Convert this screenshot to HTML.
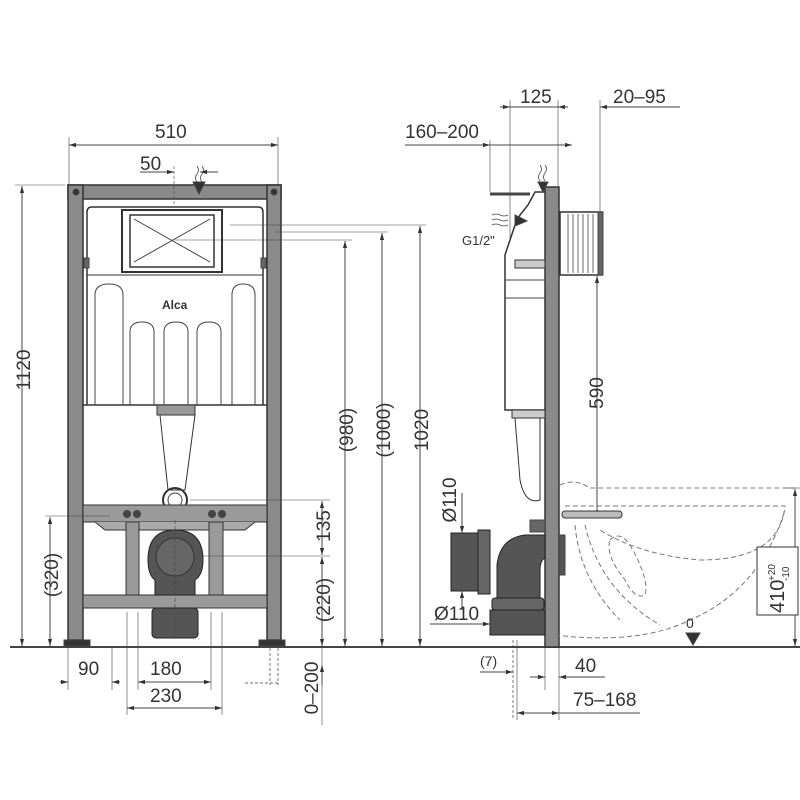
<!DOCTYPE html>
<html><head><meta charset="utf-8"><style>
html,body{margin:0;padding:0;background:#fff;}
svg{display:block;}
text{font-family:"Liberation Sans",sans-serif;fill:#333;}
</style></head><body>
<svg width="800" height="800" viewBox="0 0 800 800" xmlns="http://www.w3.org/2000/svg">
<defs>
<marker id="a" viewBox="0 0 10 10" refX="10" refY="5" markerWidth="7" markerHeight="7" orient="auto-start-reverse"><path d="M0,2 L10,5 L0,8 z" fill="#333"/></marker>
</defs>
<g stroke="#444" stroke-width="1" fill="none">
<line x1="10" y1="647" x2="800" y2="647" stroke-width="2"/>

<rect x="68" y="185" width="213" height="14" fill="#8a8a8a" stroke="#333" stroke-width="1.5"/>
<rect x="68" y="185" width="15" height="455" fill="#8a8a8a" stroke="#333" stroke-width="1.5"/>
<rect x="267" y="185" width="14" height="455" fill="#8a8a8a" stroke="#333" stroke-width="1.5"/>
<circle cx="76" cy="192" r="3" fill="#333"/><circle cx="274" cy="192" r="3" fill="#333"/>
<rect x="64" y="640" width="26" height="6" fill="#333"/><rect x="259" y="640" width="26" height="6" fill="#333"/>
<path d="M87,405 L87,212 Q87,207 92,207 L258,207 Q263,207 263,212 L263,405" stroke="#333" stroke-width="1.5"/>
<line x1="83" y1="405" x2="267" y2="405" stroke="#333" stroke-width="1.5"/>
<rect x="122" y="210" width="100" height="62" stroke="#333" stroke-width="2"/>
<rect x="130" y="215" width="84" height="52" stroke="#333" stroke-width="1.5"/>
<line x1="134" y1="262" x2="210" y2="219"/><line x1="134" y1="219" x2="210" y2="262"/>
<line x1="87" y1="275" x2="263" y2="275" stroke="#333"/>
<path d="M95,405 V295 Q95,284 109,284 Q123,284 123,295 V405"/>
<path d="M130,405 V332 Q130,322 142,322 Q154,322 154,332 V405"/>
<path d="M164,405 V332 Q164,322 176,322 Q188,322 188,332 V405"/>
<path d="M197,405 V332 Q197,322 209,322 Q221,322 221,332 V405"/>
<path d="M232,405 V295 Q232,284 243,284 Q255,284 255,295 V405"/>
<rect x="84" y="258" width="5" height="10" fill="#666"/><rect x="261" y="258" width="5" height="10" fill="#666"/>
<rect x="157" y="405" width="38" height="10" fill="#999" stroke="#333"/>
<path d="M160,415 L195,415 L185,490 L168,490 Z" stroke="#333"/>
<circle cx="175" cy="500" r="12" stroke="#333" stroke-width="2"/><circle cx="175" cy="500" r="7"/>
<rect x="83" y="505" width="184" height="17" fill="#9a9a9a" stroke="#333"/>
<path d="M95,522 L105,530 L245,530 L255,522" fill="#aaa" stroke="#333"/>
<rect x="126" y="522" width="13" height="73" fill="#9a9a9a" stroke="#333"/>
<rect x="209" y="522" width="14" height="73" fill="#9a9a9a" stroke="#333"/>
<rect x="83" y="595" width="184" height="13" fill="#9a9a9a" stroke="#333"/>
<circle cx="127" cy="514" r="3.5" fill="#444"/><circle cx="137" cy="514" r="3.5" fill="#444"/>
<circle cx="212" cy="514" r="3.5" fill="#444"/><circle cx="222" cy="514" r="3.5" fill="#444"/>
<path d="M148,560 Q148,530 175,530 Q203,530 203,560 Q203,575 195,580 L195,595 L155,595 L155,580 Q148,575 148,560 Z" fill="#555" stroke="#222"/>
<circle cx="175" cy="557" r="19" fill="#666" stroke="#333"/>
<rect x="152" y="608" width="46" height="30" rx="4" fill="#555" stroke="#222"/>
<line x1="175" y1="520" x2="175" y2="640" stroke-dasharray="4,2" stroke-width="0.6"/>

<line x1="69" y1="145" x2="278" y2="145" marker-start="url(#a)" marker-end="url(#a)"/>
<line x1="69" y1="137" x2="69" y2="185" stroke-width="0.6"/><line x1="278" y1="137" x2="278" y2="185" stroke-width="0.6"/>
<line x1="140" y1="172" x2="170" y2="172" /><line x1="170" y1="172" x2="174" y2="172" marker-end="url(#a)"/>
<line x1="218" y1="172" x2="200" y2="172" marker-end="url(#a)"/>
<line x1="174" y1="166" x2="174" y2="205" stroke-width="0.6" stroke-dasharray="3,2"/>
<path d="M193,182 L205,182 L199,194 Z" fill="#333"/>
<path d="M197,166 q3,4 0,8 q-3,4 0,8 M202,166 q3,4 0,8 q-3,4 0,8" stroke-width="0.8"/>

<line x1="22" y1="186" x2="22" y2="646" marker-start="url(#a)" marker-end="url(#a)"/>
<line x1="15" y1="185" x2="65" y2="185" stroke-width="0.6"/>
<line x1="50" y1="517" x2="50" y2="646" marker-start="url(#a)" marker-end="url(#a)"/>
<line x1="45" y1="516" x2="110" y2="516" stroke-width="0.6"/>
<line x1="345" y1="241" x2="345" y2="646" marker-start="url(#a)" marker-end="url(#a)"/>
<line x1="382" y1="233" x2="382" y2="646" marker-start="url(#a)" marker-end="url(#a)"/>
<line x1="420" y1="226" x2="420" y2="646" marker-start="url(#a)" marker-end="url(#a)"/>
<line x1="175" y1="240" x2="352" y2="240" stroke-width="0.6"/>
<line x1="275" y1="232" x2="388" y2="232" stroke-width="0.6"/>
<line x1="230" y1="225" x2="426" y2="225" stroke-width="0.6"/>
<line x1="190" y1="500" x2="330" y2="500" stroke-width="0.6"/>
<line x1="200" y1="556" x2="330" y2="556" stroke-width="0.6"/>
<line x1="322" y1="501" x2="322" y2="555" marker-start="url(#a)" marker-end="url(#a)"/>
<line x1="322" y1="557" x2="322" y2="646" marker-start="url(#a)" marker-end="url(#a)"/>
<line x1="322" y1="646" x2="322" y2="725" stroke-width="0.6"/>
<line x1="322" y1="665" x2="322" y2="685" marker-start="url(#a)"/>
<line x1="270" y1="648" x2="270" y2="685" stroke-dasharray="3,2" stroke-width="0.7"/>
<line x1="278" y1="648" x2="278" y2="685" stroke-dasharray="3,2" stroke-width="0.7"/>
<line x1="245" y1="683" x2="278" y2="683" stroke-dasharray="3,2" stroke-width="0.7"/>

<line x1="68" y1="648" x2="68" y2="690" stroke-width="0.6"/><line x1="112" y1="648" x2="112" y2="690" stroke-width="0.6"/>
<line x1="60" y1="682" x2="68" y2="682" marker-end="url(#a)"/><line x1="120" y1="682" x2="112" y2="682" marker-end="url(#a)"/>
<line x1="138" y1="612" x2="138" y2="690" stroke-width="0.6"/><line x1="211" y1="612" x2="211" y2="690" stroke-width="0.6"/>
<line x1="138" y1="682" x2="211" y2="682" marker-start="url(#a)" marker-end="url(#a)"/>
<line x1="127" y1="612" x2="127" y2="715" stroke-width="0.6"/><line x1="222" y1="612" x2="222" y2="715" stroke-width="0.6"/>
<line x1="127" y1="708" x2="222" y2="708" marker-start="url(#a)" marker-end="url(#a)"/>

<rect x="545" y="187" width="14" height="460" fill="#8a8a8a" stroke="#333" stroke-width="1.5"/>
<rect x="560" y="212" width="42" height="63" stroke="#333" stroke-width="1.5"/>
<path d="M568,214 V273 M573,214 V273 M578,214 V273 M583,214 V273 M588,214 V273 M593,214 V273" stroke-width="0.8"/>
<rect x="598" y="212" width="5" height="63" fill="#666"/>
<path d="M545,192 L535,192 L528,205 L520,215 L515,225 L510,240 L505,255 L505,410 L545,410" stroke="#333" stroke-width="1.5"/>
<line x1="490" y1="194" x2="530" y2="194" stroke-width="3" stroke="#444"/>
<line x1="505" y1="280" x2="545" y2="280"/><line x1="505" y1="298" x2="545" y2="298"/>
<rect x="515" y="260" width="30" height="8" fill="#ccc" stroke="#333"/>
<path d="M538,182 L548,182 L543,192 Z" fill="#333"/>
<path d="M540,165 q3,4 0,8 q-3,4 0,8 M545,165 q3,4 0,8 q-3,4 0,8" stroke-width="0.8"/>
<path d="M515,215 L527,221 L515,226 Z" fill="#333"/>
<path d="M492,215 q4,-2 8,0 q4,2 8,0 M492,220 q4,-2 8,0 q4,2 8,0 M492,225 q4,-2 8,0 q4,2 8,0" stroke-width="0.8"/>
<rect x="512" y="410" width="33" height="8" fill="#ccc" stroke="#333"/>
<path d="M515,418 L540,418 L540,500 Q525,505 520,480 Z" stroke="#333"/>
<rect x="530" y="520" width="15" height="12" fill="#666"/>
<path d="M545,535 L525,535 Q500,538 497,565 L497,600 L540,600 L540,570 Q540,560 545,558 Z" fill="#555" stroke="#222"/>
<rect x="492" y="598" width="52" height="12" rx="3" fill="#666" stroke="#222"/>
<rect x="490" y="610" width="55" height="25" fill="#555" stroke="#222"/>
<rect x="559" y="535" width="6" height="40" fill="#555"/>
<rect x="451" y="533" width="28" height="58" fill="#555" stroke="#222"/>
<rect x="478" y="530" width="12" height="64" fill="#666" stroke="#222"/>
<g stroke-dasharray="5,3" stroke="#777">
<path d="M560,485 Q575,478 590,488 L795,488"/>
<path d="M565,506 L785,506 Q780,560 700,560 Q640,555 600,530"/>
<path d="M555,635 Q640,645 690,620 Q760,590 785,510"/>
<path d="M575,525 Q580,580 620,620"/>
<path d="M585,525 Q600,590 660,625"/>
<path d="M610,540 Q620,530 630,545 Q650,580 645,595 Q635,600 625,580 Q605,555 610,540"/>
</g>
<rect x="562" y="511" width="60" height="7" rx="3" fill="#bbb" stroke="#333"/>
<path d="M686,633 L700,633 L693,645 Z" fill="#333"/>
<line x1="785" y1="488" x2="800" y2="488" stroke-width="0.6"/>
<line x1="795" y1="489" x2="795" y2="646" marker-start="url(#a)" marker-end="url(#a)"/>
<rect x="757" y="547" width="41" height="68" fill="#fff" stroke="#333"/>

<line x1="510" y1="100" x2="510" y2="240" stroke-width="0.6"/>
<line x1="558" y1="100" x2="558" y2="187" stroke-width="0.6"/>
<line x1="600" y1="100" x2="600" y2="212" stroke-width="0.6"/>
<line x1="490" y1="140" x2="490" y2="192" stroke-width="0.6"/>
<line x1="500" y1="107" x2="510" y2="107" marker-end="url(#a)"/><line x1="510" y1="107" x2="558" y2="107"/>
<line x1="568" y1="107" x2="558" y2="107" marker-end="url(#a)"/>
<line x1="608" y1="107" x2="600" y2="107" marker-end="url(#a)"/><line x1="608" y1="107" x2="680" y2="107"/>
<line x1="405" y1="145" x2="490" y2="145"/><line x1="480" y1="145" x2="490" y2="145" marker-end="url(#a)"/>
<line x1="490" y1="145" x2="572" y2="145" marker-end="url(#a)"/>
<line x1="597" y1="276" x2="597" y2="512" marker-start="url(#a)"/>
<line x1="462" y1="493" x2="462" y2="533" marker-end="url(#a)"/>
<line x1="462" y1="610" x2="462" y2="591" marker-end="url(#a)"/>
<line x1="430" y1="624" x2="490" y2="624" marker-end="url(#a)"/>
<line x1="513" y1="640" x2="513" y2="720" stroke-dasharray="3,2" stroke-width="0.7"/>
<line x1="517" y1="640" x2="517" y2="720" stroke-width="0.6"/>
<line x1="545" y1="647" x2="545" y2="690" stroke-width="0.6"/><line x1="559" y1="647" x2="559" y2="720" stroke-width="0.6"/>
<line x1="480" y1="672" x2="513" y2="672" marker-end="url(#a)"/>
<line x1="530" y1="677" x2="545" y2="677" marker-end="url(#a)"/>
<line x1="575" y1="677" x2="559" y2="677" marker-end="url(#a)"/><line x1="575" y1="677" x2="605" y2="677"/>
<line x1="517" y1="713" x2="559" y2="713" marker-start="url(#a)" marker-end="url(#a)"/><line x1="559" y1="713" x2="640" y2="713"/>
</g>

<g font-size="19">
<text x="155" y="138">510</text>
<text x="140" y="170">50</text>
<text x="162" y="309" font-size="12" font-weight="bold" fill="#555">Alca</text>
<text transform="translate(30,370) rotate(-90)" text-anchor="middle">1120</text>
<text transform="translate(58,575) rotate(-90)" text-anchor="middle">(320)</text>
<text transform="translate(353,430) rotate(-90)" text-anchor="middle">(980)</text>
<text transform="translate(390,430) rotate(-90)" text-anchor="middle">(1000)</text>
<text transform="translate(428,430) rotate(-90)" text-anchor="middle">1020</text>
<text transform="translate(330,526) rotate(-90)" text-anchor="middle">135</text>
<text transform="translate(330,600) rotate(-90)" text-anchor="middle">(220)</text>
<text transform="translate(318,688) rotate(-90)" text-anchor="middle">0–200</text>
<text x="78" y="675">90</text>
<text x="150" y="675">180</text>
<text x="150" y="702">230</text>
<text x="520" y="103">125</text>
<text x="613" y="103">20–95</text>
<text x="405" y="138">160–200</text>
<text x="462" y="245" font-size="13">G1/2"</text>
<text transform="translate(603,393) rotate(-90)" text-anchor="middle">590</text>
<text transform="translate(456,500) rotate(-90)" text-anchor="middle">Ø110</text>
<text x="434" y="620">Ø110</text>
<text x="480" y="666" font-size="14">(7)</text>
<text x="575" y="672">40</text>
<text x="573" y="706">75–168</text>
<text x="686" y="628" font-size="14">0</text>
<text transform="translate(784,613) rotate(-90)" font-size="20">410</text>
<text transform="translate(775,581) rotate(-90)" font-size="10">+20</text>
<text transform="translate(789,581) rotate(-90)" font-size="10">-10</text>
</g>
</svg>
</body></html>
